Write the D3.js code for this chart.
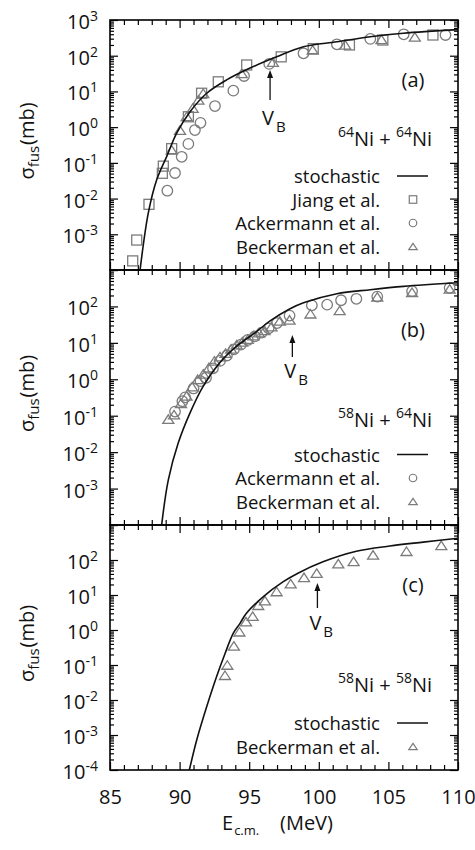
<!DOCTYPE html>
<html>
<head>
<meta charset="utf-8">
<script src="https://cdn.jsdelivr.net/npm/d3@7"></script>
<style>
  body { margin: 0; background: #fff; }
  svg { display: block; font-family: "Open Sans", sans-serif; }
</style>
</head>
<body>
<svg id="chart" width="475" height="850"></svg>
<script>
// ---- data (energies in MeV, cross sections in mb) ----
// (a) 64Ni + 64Ni
const stochA_E = [87.16, 87.75, 88.35, 89.07, 89.79, 90.75, 91.95, 93.38, 95.06, 96.97, 98.9, 101.3, 103.7, 106.07, 110];
const stochA_S = [1e-4, 3.9e-3, 0.033, 0.15, 0.68, 2.7, 8.9, 21, 45, 93, 178, 245, 339, 427, 537];
const jiangA_E = [86.63, 86.92, 87.8, 88.76, 88.83, 89.43, 90.63, 91.58, 92.78, 94.82, 97.3, 99.6, 102.2, 104.6, 108.2];
const jiangA_S = [1.8e-4, 6.9e-4, 6.9e-3, 0.051, 0.081, 0.25, 1.95, 8.9, 18.6, 55, 93, 158, 200, 275, 380];
const ackA_E = [89.12, 89.67, 90.15, 90.63, 91.1, 91.5, 92.54, 93.86, 94.63, 96.44, 98.9, 101.3, 103.7, 106.1, 109.1];
const ackA_S = [0.0166, 0.052, 0.148, 0.34, 0.83, 1.32, 3.9, 10.5, 27, 59, 117, 209, 295, 398, 380];
const beckA_E = [89.43, 90.03, 90.51, 90.94, 91.35, 91.7, 94.46, 96.7, 99.56, 101.9, 104.5, 106.9];
const beckA_S = [0.23, 0.83, 2.0, 3.4, 5.8, 8.9, 32, 66, 145, 200, 288, 339];

// (b) 58Ni + 64Ni
const stochB_E = [88.71, 89.19, 89.9, 90.75, 91.7, 92.9, 94.1, 95.5, 96.5, 97.9, 98.9, 101.3, 103.7, 106.1, 110];
const stochB_S = [1e-4, 1.74e-3, 0.0178, 0.12, 0.65, 2.9, 8.1, 20, 40, 85, 126, 224, 288, 355, 445];
const ackB_E = [89.67, 90.2, 90.4, 91.0, 91.5, 91.9, 92.4, 92.9, 93.4, 93.9, 94.4, 94.9, 95.4, 95.9, 96.4, 97.0, 97.9, 99.5, 100.6, 101.6, 102.7, 104.2, 106.7, 109.4];
const ackB_S = [0.13, 0.25, 0.32, 0.56, 0.89, 1.1, 2.0, 3.2, 4.5, 6.6, 8.9, 12, 15, 19, 25, 35, 56, 107, 112, 148, 162, 186, 263, 324];
const beckB_E = [89.19, 89.6, 90.1, 90.5, 90.9, 91.3, 91.7, 92.1, 92.5, 92.9, 93.3, 93.7, 94.1, 94.5, 94.9, 95.3, 95.7, 96.1, 96.6, 97.2, 97.9, 99.4, 101.5, 104.2, 106.7, 109.4];
const beckB_S = [0.081, 0.107, 0.22, 0.35, 0.63, 1.0, 1.4, 2.1, 3.2, 4.2, 5.2, 6.8, 8.9, 10.7, 12.6, 15.8, 19, 22, 28, 40, 43, 63, 78, 182, 245, 302];

// (c) 58Ni + 58Ni
const stochC_E = [90.7, 91.23, 91.95, 92.66, 93.26, 93.86, 94.34, 94.8, 96.0, 97.45, 98.5, 100.3, 102.7, 105.1, 107.5, 110];
const stochC_S = [1e-4, 7.2e-4, 6.5e-3, 0.047, 0.21, 0.81, 1.55, 3.0, 8.9, 24, 42, 89, 178, 251, 324, 417];
const beckC_E = [93.26, 93.43, 93.9, 94.3, 94.77, 95.25, 95.65, 96.13, 96.97, 97.98, 98.94, 99.85, 101.4, 102.5, 103.9, 106.3, 108.8];
const beckC_S = [0.051, 0.1, 0.35, 0.89, 1.74, 2.5, 5.1, 6.9, 12.6, 21, 32, 42, 79, 91, 141, 178, 263];

// barrier energies V_B for each panel
const barrierE = [96.5, 98.1, 99.9];

// axes
const xDomain = [85, 110];
const xMajor = [85, 90, 95, 100, 105, 110];
const yDomain = [1e-4, 1e3];
const yLabelsA = [1e3, 1e2, 1e1, 1e0, 1e-1, 1e-2, 1e-3];
const yLabelsB = [1e2, 1e1, 1e0, 1e-1, 1e-2, 1e-3];
const yLabelsC = [1e2, 1e1, 1e0, 1e-1, 1e-2, 1e-3, 1e-4];

const zip = (xs, ys) => xs.map((v, i) => [v, ys[i]]);

const panels = [
  {
    tag: "(a)", top: 20, bottom: 270, mass: ["64", "64"], labels: yLabelsA,
    curve: zip(stochA_E, stochA_S),
    series: [
      { name: "Jiang et al.", shape: "square", pts: zip(jiangA_E, jiangA_S) },
      { name: "Ackermann et al.", shape: "circle", pts: zip(ackA_E, ackA_S) },
      { name: "Beckerman et al.", shape: "triangle", pts: zip(beckA_E, beckA_S) }
    ],
    vb: barrierE[0], arrow: [70, 100], vbBase: 125, reactBase: 146
  },
  {
    tag: "(b)", top: 270, bottom: 525, mass: ["58", "64"], labels: yLabelsB,
    curve: zip(stochB_E, stochB_S),
    series: [
      { name: "Ackermann et al.", shape: "circle", pts: zip(ackB_E, ackB_S) },
      { name: "Beckerman et al.", shape: "triangle", pts: zip(beckB_E, beckB_S) }
    ],
    vb: barrierE[1], arrow: [335, 357], vbBase: 378, reactBase: 427
  },
  {
    tag: "(c)", top: 525, bottom: 770, mass: ["58", "58"], labels: yLabelsC,
    curve: zip(stochC_E, stochC_S),
    series: [
      { name: "Beckerman et al.", shape: "triangle", pts: zip(beckC_E, beckC_S) }
    ],
    vb: barrierE[2], arrow: [583, 608], vbBase: 630, reactBase: 692
  }
];

const svg = d3.select("#chart");
const x = d3.scaleLinear().domain(xDomain).range([110, 458]);
const markColor = "#7b7b7b";

function drawMarker(g, shape, cx, cy, s) {
  if (shape === "square") {
    g.append("rect").attr("x", cx - s / 2).attr("y", cy - s / 2)
      .attr("width", s).attr("height", s);
  } else if (shape === "circle") {
    g.append("circle").attr("cx", cx).attr("cy", cy).attr("r", s / 2);
  } else {
    const h = s * 0.85;
    g.append("path")
      .attr("d", `M${cx},${cy - h / 2}L${cx + s / 2 + 0.5},${cy + h / 2}L${cx - s / 2 - 0.5},${cy + h / 2}Z`);
  }
}

// minor ticks for x and y
const xMinor = d3.range(86, 110).filter(v => v % 5 !== 0);
const yMajor = d3.range(-4, 4).map(e => Math.pow(10, e));
const yMinor = [];
d3.range(-4, 3).forEach(e => d3.range(2, 10).forEach(m => yMinor.push(m * Math.pow(10, e))));

panels.forEach((p, i) => {
  const y = d3.scaleLog().domain(yDomain).range([p.bottom, p.top]);
  const g = svg.append("g");

  const clipId = "clip" + i;
  svg.append("clipPath").attr("id", clipId)
    .append("rect").attr("x", 110).attr("y", p.top)
    .attr("width", 348).attr("height", p.bottom - p.top);

  // ticks
  const tickStyle = sel => {
    sel.select(".domain").remove();
    sel.selectAll("line").attr("stroke", "#000").attr("stroke-width", 1.2);
  };
  const bottomAxis = d3.axisBottom(x).tickValues(xMajor).tickSizeInner(-8).tickSizeOuter(0).tickPadding(20);
  if (i < 2) bottomAxis.tickFormat("");
  else bottomAxis.tickFormat(d3.format("d"));
  g.append("g").attr("transform", `translate(0,${p.bottom})`).call(bottomAxis).call(tickStyle)
    .selectAll("text").attr("font-size", 20).attr("fill", "#111").attr("font-family", "Open Sans");
  g.append("g").attr("transform", `translate(0,${p.bottom})`)
    .call(d3.axisBottom(x).tickValues(xMinor).tickSize(-5).tickFormat("")).call(tickStyle);
  g.append("g").attr("transform", `translate(0,${p.top})`)
    .call(d3.axisTop(x).tickValues(xMajor).tickSize(-8).tickFormat("")).call(tickStyle);
  g.append("g").attr("transform", `translate(0,${p.top})`)
    .call(d3.axisTop(x).tickValues(xMinor).tickSize(-5).tickFormat("")).call(tickStyle);

  g.append("g").attr("transform", "translate(110,0)")
    .call(d3.axisLeft(y).tickValues(yMajor).tickSize(-8).tickFormat("")).call(tickStyle);
  g.append("g").attr("transform", "translate(110,0)")
    .call(d3.axisLeft(y).tickValues(yMinor).tickSize(-4).tickFormat("")).call(tickStyle);
  g.append("g").attr("transform", "translate(458,0)")
    .call(d3.axisRight(y).tickValues(yMajor).tickSize(-8).tickFormat("")).call(tickStyle);
  g.append("g").attr("transform", "translate(458,0)")
    .call(d3.axisRight(y).tickValues(yMinor).tickSize(-4).tickFormat("")).call(tickStyle);

  // frame
  g.append("rect").attr("x", 110).attr("y", p.top)
    .attr("width", 348).attr("height", p.bottom - p.top)
    .attr("fill", "none").attr("stroke", "#000").attr("stroke-width", 1.6);

  // y tick labels 10^n
  p.labels.forEach(v => {
    const t = g.append("text").attr("x", 98).attr("y", y(v) + 9)
      .attr("text-anchor", "end").attr("fill", "#111");
    t.append("tspan").attr("font-size", 20).text("10");
    t.append("tspan").attr("font-size", 14).attr("dy", -8).text(String(Math.round(Math.log10(v))));
  });

  // y title
  const yt = g.append("text")
    .attr("transform", `translate(34,${(p.top + p.bottom) / 2 - 4}) rotate(-90)`)
    .attr("text-anchor", "middle").attr("fill", "#111");
  yt.append("tspan").attr("font-size", 20).text("σ");
  yt.append("tspan").attr("font-size", 15).attr("dy", 5).text("fus");
  yt.append("tspan").attr("font-size", 20).attr("dy", -5).attr("dx", 1).text("(mb)");

  // data points
  const marks = g.append("g").attr("clip-path", `url(#${clipId})`)
    .attr("fill", "none").attr("stroke", markColor).attr("stroke-width", 1.3);
  p.series.forEach(s => {
    s.pts.forEach(d => drawMarker(marks, s.shape, x(d[0]), y(d[1]), s.shape === "circle" ? 10.5 : 10));
  });

  // stochastic curve
  const line = d3.line().x(d => x(d[0])).y(d => y(d[1])).curve(d3.curveCatmullRom.alpha(0.5));
  g.append("path").datum(p.curve).attr("clip-path", `url(#${clipId})`)
    .attr("d", line).attr("fill", "none").attr("stroke", "#111").attr("stroke-width", 1.6);

  // panel tag
  g.append("text").attr("x", 413).attr("y", p.top + 67).attr("text-anchor", "middle")
    .attr("font-size", 20).attr("fill", "#111").text(p.tag);

  // V_B arrow
  const ax = x(p.vb);
  g.append("line").attr("x1", ax).attr("x2", ax).attr("y1", p.arrow[1]).attr("y2", p.arrow[0] + 6)
    .attr("stroke", "#111").attr("stroke-width", 1.3);
  g.append("path").attr("d", `M${ax},${p.arrow[0]}L${ax - 3},${p.arrow[0] + 8}L${ax + 3},${p.arrow[0] + 8}Z`)
    .attr("fill", "#111");
  const vt = g.append("text").attr("x", ax - 8).attr("y", p.vbBase).attr("fill", "#111");
  vt.append("tspan").attr("font-size", 20).text("V");
  vt.append("tspan").attr("font-size", 15).attr("dx", 2).attr("dy", 7).text("B");

  // reaction label
  const rt = g.append("text").attr("x", 432).attr("y", p.reactBase)
    .attr("text-anchor", "end").attr("fill", "#111");
  rt.append("tspan").attr("font-size", 14).attr("dy", -9).text(p.mass[0]);
  rt.append("tspan").attr("font-size", 20).attr("dy", 9).text("Ni + ");
  rt.append("tspan").attr("font-size", 14).attr("dy", -9).text(p.mass[1]);
  rt.append("tspan").attr("font-size", 20).attr("dy", 9).text("Ni");

  // legend
  const entries = [{ name: "stochastic", shape: "line" }].concat(p.series);
  const n = entries.length;
  entries.forEach((e, k) => {
    const base = p.bottom - 16.5 - (n - 1 - k) * 23.5;
    g.append("text").attr("x", 380).attr("y", base).attr("text-anchor", "end")
      .attr("font-size", 18.5).attr("fill", "#111").text(e.name);
    if (e.shape === "line") {
      g.append("line").attr("x1", 397).attr("x2", 428).attr("y1", base - 7).attr("y2", base - 7)
        .attr("stroke", "#111").attr("stroke-width", 1.5);
    } else {
      const lg = g.append("g").attr("fill", "none").attr("stroke", markColor).attr("stroke-width", 1.2);
      drawMarker(lg, e.shape, 413, base - 7, 7.5);
    }
  });
});

// x title
const xt = svg.append("text").attr("x", 222).attr("y", 830).attr("fill", "#111");
xt.append("tspan").attr("font-size", 20).text("E");
xt.append("tspan").attr("font-size", 13).attr("dx", 1).attr("dy", 5).text("c.m.");
svg.append("text").attr("x", 280).attr("y", 830).attr("font-size", 20).attr("fill", "#111").text("(MeV)");
</script>
</body>
</html>
